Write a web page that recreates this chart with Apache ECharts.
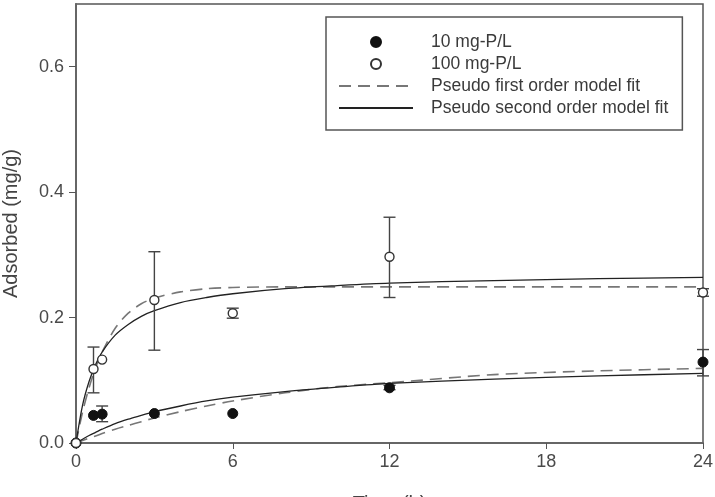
<!DOCTYPE html>
<html>
<head>
<meta charset="utf-8">
<script src="https://cdn.jsdelivr.net/npm/echarts@6/dist/echarts.min.js"></script>
<style>
  html, body { margin: 0; padding: 0; background: #fff; }
  #myChart { width: 715px; height: 497px; }
</style>
</head>
<body>
<div id="myChart"></div>
<script>
// measured points (time in h, adsorbed in mg/g)
var timePts = [0, 0.67, 1, 3, 6, 12, 24];
var low10 = [0, 0.044, 0.046, 0.047, 0.047, 0.088, 0.129];
var high100 = [0, 0.118, 0.133, 0.228, 0.207, 0.297, 0.240];

// error bars [time, lower, upper]
var err10 = [[1, 0.034, 0.059], [12, 0.085, 0.092], [24, 0.107, 0.149]];
var err100 = [[0.67, 0.080, 0.153], [3, 0.148, 0.305], [6, 0.199, 0.215],
              [12, 0.232, 0.360], [24, 0.234, 0.246]];

// model fit curves
var fitTime = [0, 0.25, 0.5, 0.75, 1, 1.5, 2, 2.5, 3, 4, 5, 6, 8, 10, 12, 16, 20, 24];
var first100 = [0, 0.049, 0.088, 0.120, 0.145, 0.183, 0.207, 0.222, 0.231, 0.241, 0.246, 0.248, 0.249, 0.249, 0.249, 0.249, 0.249, 0.249];
var second100 = [0, 0.060, 0.098, 0.125, 0.145, 0.172, 0.189, 0.202, 0.211, 0.224, 0.232, 0.238, 0.246, 0.251, 0.255, 0.259, 0.262, 0.264];
var first10 = [0, 0.004, 0.008, 0.011, 0.015, 0.022, 0.028, 0.034, 0.040, 0.050, 0.059, 0.067, 0.080, 0.090, 0.096, 0.109, 0.115, 0.119];
var second10 = [0, 0.006, 0.012, 0.017, 0.022, 0.031, 0.038, 0.044, 0.050, 0.059, 0.067, 0.073, 0.082, 0.089, 0.095, 0.102, 0.107, 0.111];

var xTicks = [0, 6, 12, 18, 24];
var yTicks = [0, 0.2, 0.4, 0.6];

function pairs(xs, ys) {
    return xs.map(function (x, i) { return [x, ys[i]]; });
}

function renderErr(params, api) {
    var x = api.value(0);
    var lo = api.coord([x, api.value(1)]);
    var hi = api.coord([x, api.value(2)]);
    var w = 6;
    var st = { stroke: '#444', lineWidth: 1.4 };
    return {
        type: 'group',
        children: [
            { type: 'line', shape: { x1: lo[0], y1: lo[1], x2: hi[0], y2: hi[1] }, style: st },
            { type: 'line', shape: { x1: lo[0] - w, y1: lo[1], x2: lo[0] + w, y2: lo[1] }, style: st },
            { type: 'line', shape: { x1: hi[0] - w, y1: hi[1], x2: hi[0] + w, y2: hi[1] }, style: st }
        ]
    };
}

var myChart = echarts.init(document.getElementById('myChart'));

var dashStyle = { color: '#777', width: 1.6, type: [12, 7] };
var solidStyle = { color: '#222', width: 1.3, type: 'solid' };
var noDot = { color: 'rgba(0,0,0,0)', borderColor: 'rgba(0,0,0,0)', borderWidth: 0 };

var option = {
    animation: false,
    textStyle: { fontFamily: 'Arial, "Liberation Sans", sans-serif' },
    grid: {
        left: 76, right: 12, top: 4, bottom: 54,
        outerBoundsMode: 'none', containLabel: false,
        show: true, borderColor: '#555', borderWidth: 1.5
    },
    legend: {
        orient: 'vertical',
        left: 326, top: 17,
        padding: [16, 14, 13, 12],
        borderColor: '#555', borderWidth: 1.5,
        itemWidth: 74, itemHeight: 10, itemGap: 4,
        textStyle: { fontSize: 17.5, color: '#3a3a3a', lineHeight: 17, padding: [0, 0, 0, 13] },
        data: [
            { name: '10 mg-P/L' },
            { name: '100 mg-P/L' },
            { name: 'Pseudo first order model fit', itemStyle: noDot },
            { name: 'Pseudo second order model fit', itemStyle: noDot }
        ]
    },
    xAxis: {
        type: 'value', min: 0, max: 24, interval: 6,
        name: 'Time (h)', nameLocation: 'middle', nameGap: 51,
        nameTextStyle: { fontSize: 20, color: '#444' },
        axisLine: { lineStyle: { color: '#666', width: 2 } },
        axisTick: { show: true, inside: false, length: 6, lineStyle: { color: '#555' } },
        axisLabel: { fontSize: 18, color: '#4a4a4a', margin: 10,
            formatter: function (v) { return xTicks.indexOf(v) >= 0 ? String(v) : ''; } },
        splitLine: { show: false }
    },
    yAxis: {
        type: 'value', min: 0, max: 0.7, interval: 0.2,
        name: 'Adsorbed (mg/g)', nameLocation: 'middle', nameGap: 55,
        nameTextStyle: { fontSize: 20, color: '#444' },
        axisLine: { lineStyle: { color: '#666', width: 2 } },
        axisTick: { show: true, inside: false, length: 7, lineStyle: { color: '#555' } },
        axisLabel: { fontSize: 18, color: '#4a4a4a', margin: 12, showMaxLabel: false,
            formatter: function (v) {
                return yTicks.some(function (t) { return Math.abs(t - v) < 1e-9; }) ? v.toFixed(1) : '';
            } },
        splitLine: { show: false }
    },
    series: [
        {
            name: 'Pseudo first order model fit', type: 'line', showSymbol: false, symbol: 'none',
            data: pairs(fitTime, first100), smooth: 0.3, lineStyle: dashStyle, itemStyle: { color: '#777' }, z: 2
        },
        {
            name: 'Pseudo first order model fit', type: 'line', showSymbol: false, symbol: 'none',
            data: pairs(fitTime, first10), smooth: 0.3, lineStyle: dashStyle, itemStyle: { color: '#777' }, z: 2
        },
        {
            name: 'Pseudo second order model fit', type: 'line', showSymbol: false, symbol: 'none',
            data: pairs(fitTime, second100), smooth: 0.3, lineStyle: solidStyle, itemStyle: { color: '#222' }, z: 2
        },
        {
            name: 'Pseudo second order model fit', type: 'line', showSymbol: false, symbol: 'none',
            data: pairs(fitTime, second10), smooth: 0.3, lineStyle: solidStyle, itemStyle: { color: '#222' }, z: 2
        },
        {
            name: 'err10', type: 'custom', renderItem: renderErr, data: err10, z: 3,
            encode: { x: 0, y: [1, 2] }
        },
        {
            name: 'err100', type: 'custom', renderItem: renderErr, data: err100, z: 3,
            encode: { x: 0, y: [1, 2] }
        },
        {
            name: '10 mg-P/L', type: 'scatter', symbol: 'circle', symbolSize: 10,
            data: pairs(timePts, low10), clip: false,
            itemStyle: { color: '#111', borderColor: '#111', borderWidth: 1, opacity: 1 }, z: 4
        },
        {
            name: '100 mg-P/L', type: 'scatter', symbol: 'circle', symbolSize: 9,
            data: pairs(timePts, high100), clip: false,
            itemStyle: { color: '#fff', borderColor: '#333', borderWidth: 1.4, opacity: 1 }, z: 4
        }
    ]
};

myChart.setOption(option);
</script>
</body>
</html>
